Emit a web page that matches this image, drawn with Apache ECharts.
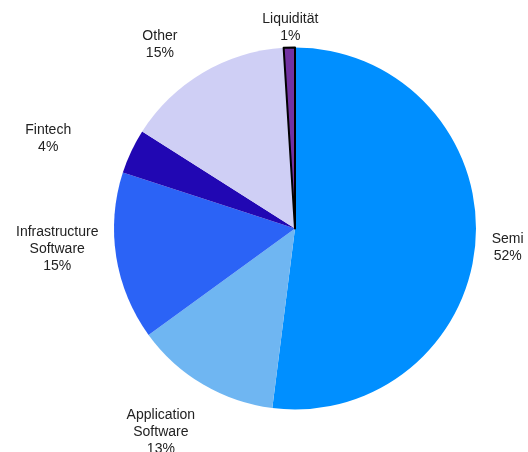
<!DOCTYPE html>
<html>
<head>
<meta charset="utf-8">
<script src="https://cdn.jsdelivr.net/npm/echarts@6/dist/echarts.min.js"></script>
<style>
html, body { margin: 0; padding: 0; background: #fff; }
#chart { width: 528px; height: 452px; }
</style>
</head>
<body>
<div id="chart"></div>
<script>
var categories = ['Semi', 'Application Software', 'Infrastructure Software', 'Fintech', 'Other', 'Liquidität'];
var shares = [52, 13, 15, 4, 15, 1];

var colors = ['#008fff', '#6fb6f2', '#2b63f6', '#2107b3', '#cfcff5', '#7131a2'];
// label centre, measured from the outer mid point of each slice
var labelOffsets = [[32, 8], [-42, 48], [-59, -8], [-83, -13], [-43, -28], [1, -20]];

var chart = echarts.init(document.getElementById('chart'));

var seriesData = categories.map(function (name, i) {
    var item = {
        name: name,
        value: shares[i],
        itemStyle: { color: colors[i] }
    };
    if (name === 'Liquidität') {
        item.itemStyle.borderColor = '#000';
        item.itemStyle.borderWidth = 2;
    }
    return item;
});

var option = {
    backgroundColor: '#fff',
    animation: false,
    series: [
        {
            type: 'pie',
            center: [295, 228.5],
            radius: 181,
            startAngle: 90,
            clockwise: true,
            avoidLabelOverlap: false,
            data: seriesData,
            label: {
                show: true,
                position: 'outside',
                fontFamily: 'Liberation Sans, Arial, sans-serif',
                fontSize: 14,
                lineHeight: 17,
                color: '#222',
                formatter: function (p) {
                    return p.name.replace(' ', '\n') + '\n' + Math.round(p.percent) + '%';
                }
            },
            labelLine: {
                show: true,
                length: 5,
                length2: 0,
                lineStyle: { opacity: 0 }
            },
            labelLayout: function (params) {
                var pts = params.labelLinePoints;
                var off = labelOffsets[params.dataIndex];
                if (!pts) return {};
                return {
                    x: pts[0][0] + off[0],
                    y: pts[0][1] + off[1],
                    align: 'center',
                    verticalAlign: 'middle'
                };
            }
        }
    ]
};
chart.setOption(option);
</script>
</body>
</html>
